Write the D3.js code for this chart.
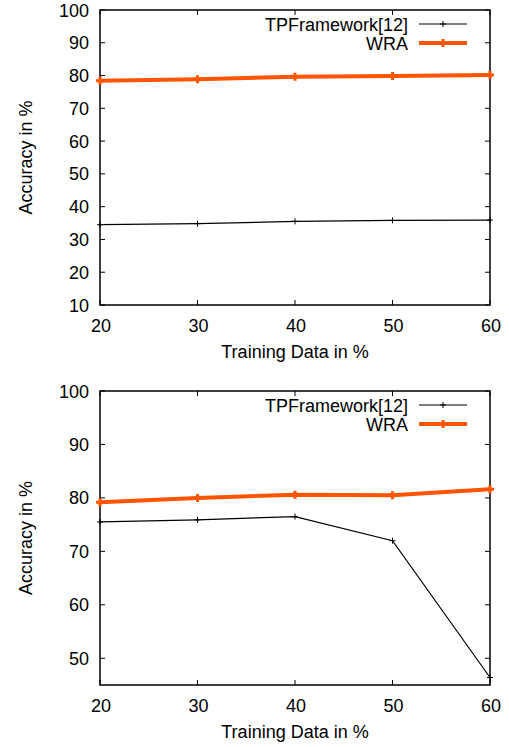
<!DOCTYPE html>
<html>
<head>
<meta charset="utf-8">
<script src="https://cdn.jsdelivr.net/npm/d3@7"></script>
<style>
  body { margin: 0; background: #fff; }
  svg text { font-family: "Liberation Sans", Arial, sans-serif; font-size: 18px; fill: #000; }
</style>
</head>
<body>
<div id="chart"></div>
<script>
// data
var trainingPct = [20, 30, 40, 50, 60];

var tpTop = [34.5, 34.8, 35.5, 35.8, 35.9];
var wraTop = [78.4, 78.9, 79.6, 79.9, 80.2];

var tpBottom = [75.5, 75.9, 76.5, 72.0, 46.4];
var wraBottom = [79.2, 80.0, 80.6, 80.5, 81.6];

var yTicksTop = [10, 20, 30, 40, 50, 60, 70, 80, 90, 100];
var yTicksBottom = [50, 60, 70, 80, 90, 100];

var seriesNames = ["TPFramework[12]", "WRA"];

var svgWidth = 509;
var svgHeight = 747;
var orange = "#ff5500";

var svg = d3.select("#chart")
  .append("svg")
  .attr("width", svgWidth)
  .attr("height", svgHeight);

// draws one gnuplot-like panel
function drawPanel(top, bottom, yDomain, yTicks, tp, wra) {
  var left = 100, right = 490;

  var x = d3.scaleLinear().domain([20, 60]).range([left, right]);
  var y = d3.scaleLinear().domain(yDomain).range([bottom, top]);

  var g = svg.append("g");

  // ticks (inward, mirrored)
  var tickLen = 5;
  trainingPct.forEach(function(v) {
    g.append("line").attr("x1", x(v)).attr("x2", x(v))
      .attr("y1", bottom).attr("y2", bottom - tickLen)
      .attr("stroke", "#000").attr("stroke-width", 1);
    g.append("line").attr("x1", x(v)).attr("x2", x(v))
      .attr("y1", top).attr("y2", top + tickLen)
      .attr("stroke", "#000").attr("stroke-width", 1);
    g.append("text")
      .attr("x", x(v) + 1).attr("y", bottom + 27)
      .attr("text-anchor", "middle")
      .text(v);
  });
  yTicks.forEach(function(v) {
    g.append("line").attr("x1", left).attr("x2", left + tickLen)
      .attr("y1", y(v)).attr("y2", y(v))
      .attr("stroke", "#000").attr("stroke-width", 1);
    g.append("line").attr("x1", right).attr("x2", right - tickLen)
      .attr("y1", y(v)).attr("y2", y(v))
      .attr("stroke", "#000").attr("stroke-width", 1);
    g.append("text")
      .attr("x", 89).attr("y", y(v) + 6.5)
      .attr("text-anchor", "end")
      .text(v);
  });

  // frame
  g.append("rect")
    .attr("x", left).attr("y", top)
    .attr("width", right - left).attr("height", bottom - top)
    .attr("fill", "none").attr("stroke", "#000").attr("stroke-width", 1.5);

  var line = d3.line()
    .x(function(d, i) { return x(trainingPct[i]); })
    .y(function(d) { return y(d); });

  // TPFramework series
  g.append("path").datum(tp)
    .attr("d", line)
    .attr("fill", "none").attr("stroke", "#000").attr("stroke-width", 1.2);
  tp.forEach(function(d, i) {
    plusMark(g, x(trainingPct[i]), y(d), 3, "#000", 1);
  });

  // WRA series
  g.append("path").datum(wra)
    .attr("d", line)
    .attr("fill", "none").attr("stroke", orange).attr("stroke-width", 4);
  wra.forEach(function(d, i) {
    plusMark(g, x(trainingPct[i]), y(d), 4, orange, 3);
  });

  // legend
  var legY = [top + 14, top + 33];
  var colors = ["#000", orange];
  var widths = [1.2, 4];
  seriesNames.forEach(function(name, i) {
    g.append("text")
      .attr("x", 408).attr("y", legY[i] + 6.5)
      .attr("text-anchor", "end")
      .text(name);
    g.append("line")
      .attr("x1", 419).attr("x2", 467)
      .attr("y1", legY[i]).attr("y2", legY[i])
      .attr("stroke", colors[i]).attr("stroke-width", widths[i]);
    plusMark(g, 443, legY[i], i === 0 ? 3 : 4, colors[i], i === 0 ? 1 : 3);
  });

  // axis labels
  g.append("text")
    .attr("x", (left + right) / 2).attr("y", bottom + 53)
    .attr("text-anchor", "middle")
    .text("Training Data in %");
  g.append("text")
    .attr("transform", "translate(32," + ((top + bottom) / 2) + ") rotate(-90)")
    .attr("text-anchor", "middle")
    .text("Accuracy in %");
}

function plusMark(g, cx, cy, r, color, w) {
  g.append("path")
    .attr("d", "M" + (cx - r) + "," + cy + "H" + (cx + r) + "M" + cx + "," + (cy - r) + "V" + (cy + r))
    .attr("stroke", color).attr("stroke-width", w);
}

drawPanel(10, 305, [10, 100], yTicksTop, tpTop, wraTop);
drawPanel(391, 685, [45, 100], yTicksBottom, tpBottom, wraBottom);
</script>
</body>
</html>
